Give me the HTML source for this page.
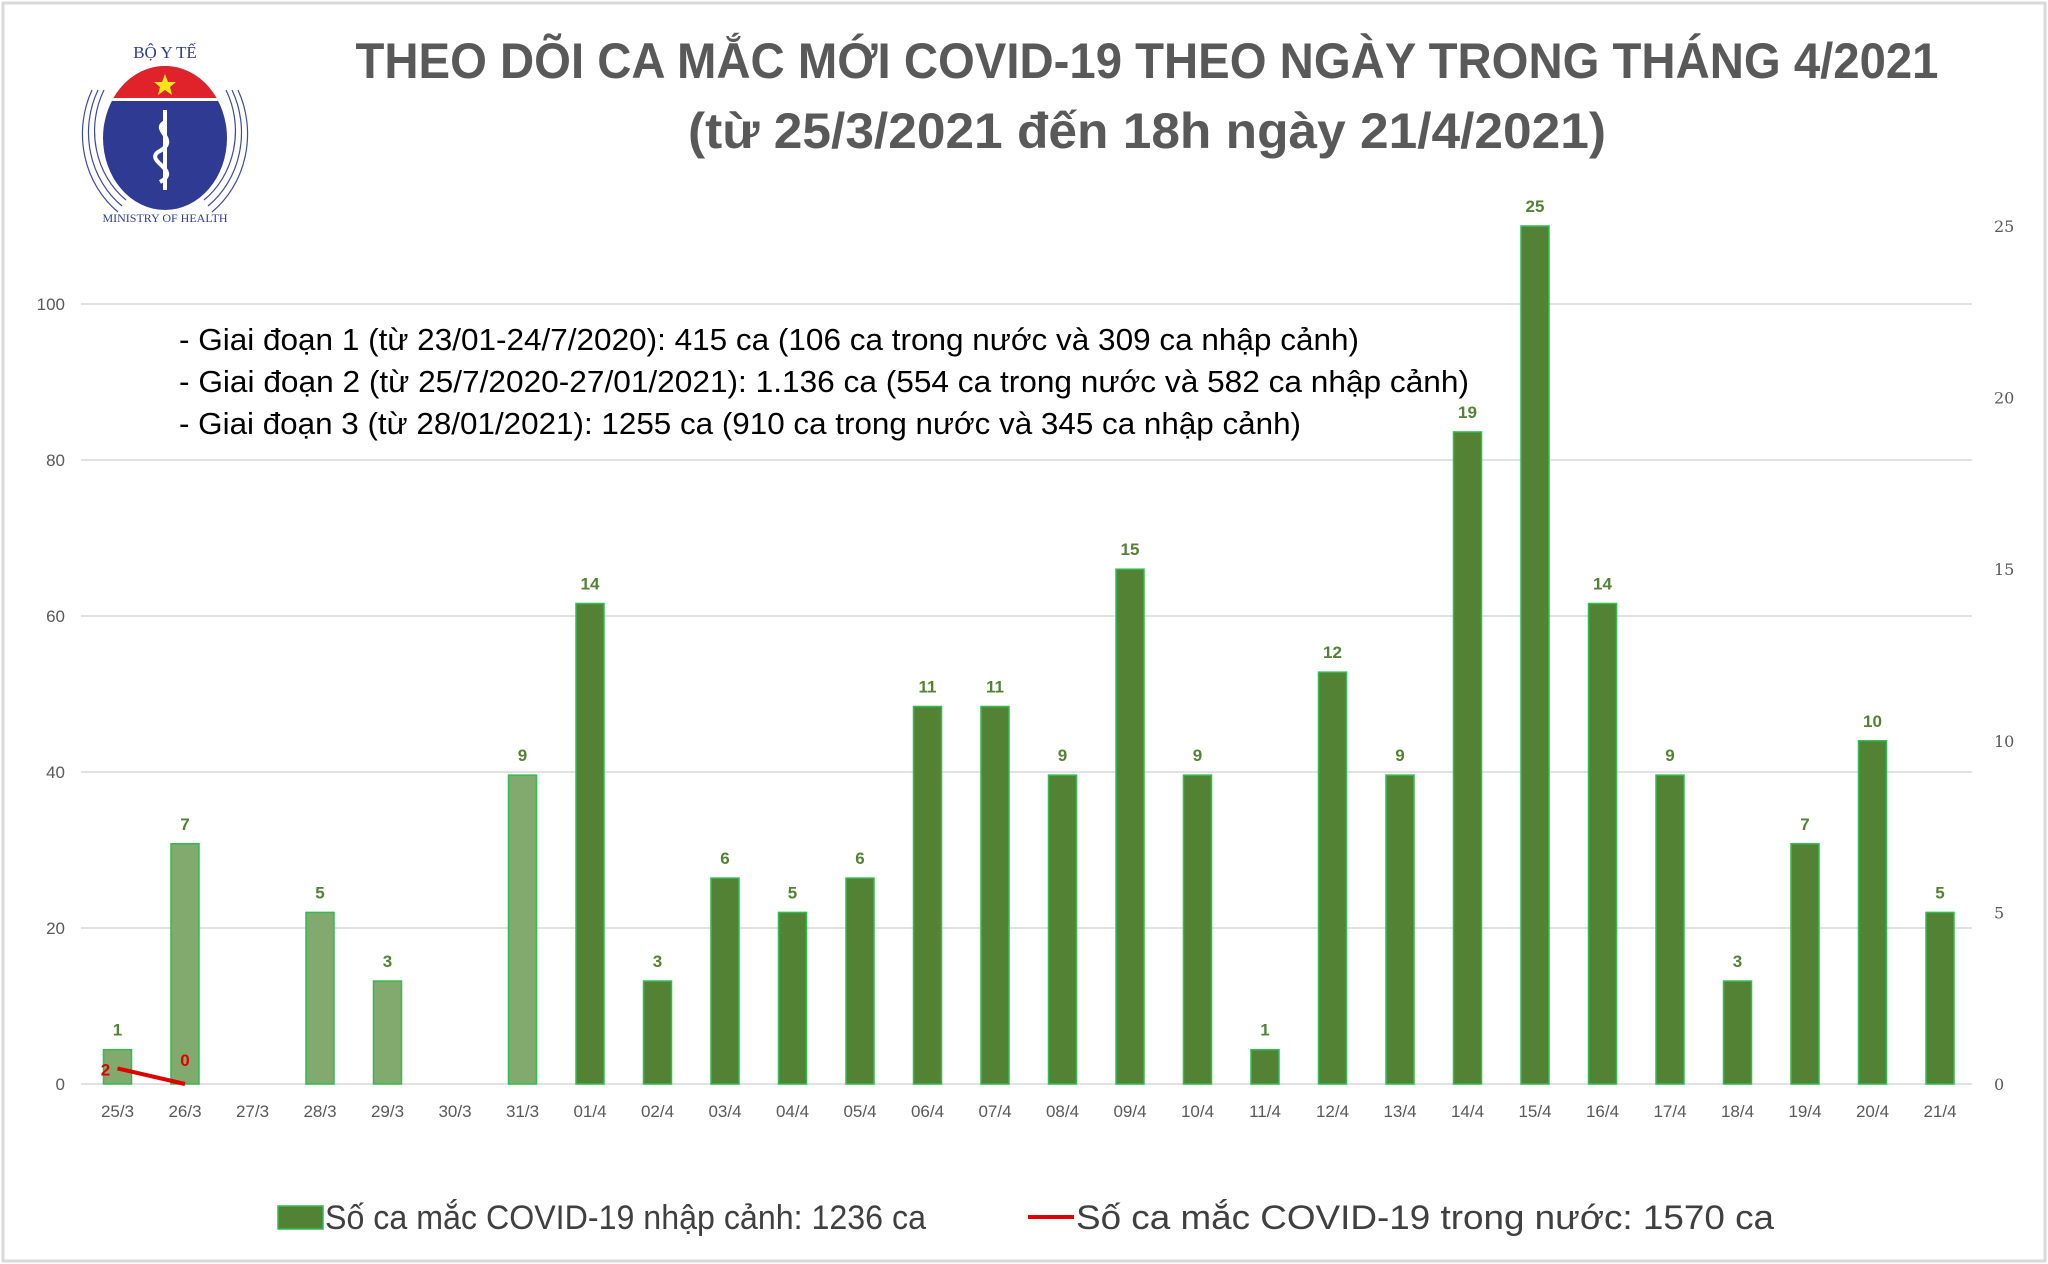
<!DOCTYPE html>
<html><head><meta charset="utf-8"><style>
html,body{margin:0;padding:0;background:#fff;}
svg{display:block;}
</style></head><body>
<svg id="chart" width="2048" height="1264" viewBox="0 0 2048 1264" xmlns="http://www.w3.org/2000/svg" font-family="'Liberation Sans', sans-serif">
<rect x="3" y="3" width="2042" height="1258" fill="#fff" stroke="#d9d9d9" stroke-width="3"/>
<g>
  <path d="M104 90 A78 86 0 0 0 126 200" stroke="#3d4aa0" stroke-width="1.2" fill="none"/>
  <path d="M98 90 A84 92 0 0 0 122 206" stroke="#3d4aa0" stroke-width="1.2" fill="none"/>
  <path d="M92 90 A90 98 0 0 0 118 212" stroke="#3d4aa0" stroke-width="1.2" fill="none"/>
  <path d="M226 90 A78 86 0 0 1 204 200" stroke="#3d4aa0" stroke-width="1.2" fill="none"/>
  <path d="M232 90 A84 92 0 0 1 208 206" stroke="#3d4aa0" stroke-width="1.2" fill="none"/>
  <path d="M238 90 A90 98 0 0 1 212 212" stroke="#3d4aa0" stroke-width="1.2" fill="none"/>
  <clipPath id="lc"><ellipse cx="165" cy="138" rx="62" ry="72"/></clipPath>
  <g clip-path="url(#lc)">
    <rect x="100" y="60" width="140" height="160" fill="#2f3b93"/>
    <rect x="100" y="60" width="140" height="38" fill="#e0222b"/>
    <rect x="100" y="98" width="140" height="3" fill="#fff"/>
  </g>
  <polygon points="165,74 168,82 176,82 170,87 172,95 165,90 158,95 160,87 154,82 162,82" fill="#f7e51b"/>
  <rect x="163" y="110" width="4" height="80" fill="#fff"/>
  <path d="M165 122 C150 130,182 140,158 152 C145 162,182 170,160 182" stroke="#fff" stroke-width="4" fill="none"/>
  <text x="165" y="58" font-size="17" fill="#2f3b93" text-anchor="middle" font-family="'Liberation Serif', serif">BỘ Y TẾ</text>
  <text x="165" y="222" font-size="12" fill="#2f3b93" text-anchor="middle" font-family="'Liberation Serif', serif">MINISTRY OF HEALTH</text>
</g>
<text x="1147" y="78" font-size="50" font-weight="bold" fill="#595959" text-anchor="middle" textLength="1583" lengthAdjust="spacingAndGlyphs">THEO DÕI CA MẮC MỚI COVID-19 THEO NGÀY TRONG THÁNG 4/2021</text>
<text x="1147" y="148" font-size="50" font-weight="bold" fill="#595959" text-anchor="middle" textLength="918" lengthAdjust="spacingAndGlyphs">(từ 25/3/2021 đến 18h ngày 21/4/2021)</text>
<g id="grid"></g>
<g id="bars"></g>
<g id="line"></g>
<g id="axes"></g>
<g font-size="31" fill="#000">
  <text x="179" y="350" textLength="1180" lengthAdjust="spacingAndGlyphs">- Giai đoạn 1 (từ 23/01-24/7/2020): 415 ca (106 ca trong nước và 309 ca nhập cảnh)</text>
  <text x="179" y="392" textLength="1290" lengthAdjust="spacingAndGlyphs">- Giai đoạn 2 (từ 25/7/2020-27/01/2021): 1.136 ca (554 ca trong nước và 582 ca nhập cảnh)</text>
  <text x="179" y="434" textLength="1122" lengthAdjust="spacingAndGlyphs">- Giai đoạn 3 (từ 28/01/2021): 1255 ca (910 ca trong nước và 345 ca nhập cảnh)</text>
</g>
<g>
  <rect x="278" y="1206" width="45" height="23" fill="#548235" stroke="#2ebd4f" stroke-width="1.5"/>
  <text x="325" y="1229" font-size="34" fill="#404040" textLength="601" lengthAdjust="spacingAndGlyphs">Số ca mắc COVID-19 nhập cảnh: 1236 ca</text>
  <line x1="1028" y1="1217" x2="1074" y2="1217" stroke="#e00000" stroke-width="4"/>
  <text x="1076" y="1229" font-size="34" fill="#404040" textLength="698" lengthAdjust="spacingAndGlyphs">Số ca mắc COVID-19 trong nước: 1570 ca</text>
</g>
</svg>
<script>
const categories = ["25/3","26/3","27/3","28/3","29/3","30/3","31/3","01/4","02/4","03/4","04/4","05/4","06/4","07/4","08/4","09/4","10/4","11/4","12/4","13/4","14/4","15/4","16/4","17/4","18/4","19/4","20/4","21/4"];
const importedCases = [1,7,0,5,3,0,9,14,3,6,5,6,11,11,9,15,9,1,12,9,19,25,14,9,3,7,10,5];
const domesticCases = [2,0];
const leftTicks = [0,20,40,60,80,100];
const rightTicks = [0,5,10,15,20,25];

const NS = "http://www.w3.org/2000/svg";
const x0 = 117.5, step = 67.5, zeroY = 1084;
const xPos = i => x0 + i * step;
const yLeft = v => zeroY - v * 7.8;
const yRight = v => zeroY - v * 34.32;
function mk(tag, attrs, parent, txt) {
  const e = document.createElementNS(NS, tag);
  for (const k in attrs) e.setAttribute(k, attrs[k]);
  if (txt !== undefined) e.textContent = txt;
  document.getElementById(parent).appendChild(e);
  return e;
}
leftTicks.forEach(t => {
  const g = mk("line", {x1: 81, x2: 1972, y1: yLeft(t), y2: yLeft(t), stroke: "#d9d9d9", "stroke-width": 1.5}, "grid");
  
  
  const l = mk("text", {x: 65, y: yLeft(t) + 6, "font-size": 17, fill: "#595959", "text-anchor": "end"}, "axes", t);
  
  
});
rightTicks.forEach(t => {
  const l = mk("text", {x: 1994, y: yRight(t) + 6, "font-size": 16, fill: "#595959", "font-family": "'DejaVu Serif', serif"}, "axes", t);
  
  
});
categories.forEach((c, i) => {
  const l = mk("text", {x: xPos(i), y: 1117, "font-size": 17, fill: "#595959", "text-anchor": "middle"}, "axes", c);
  
  
  const v = importedCases[i];
  if (v > 0) {
    const light = i < 7;
    const b = mk("rect", {x: xPos(i) - 14, y: yRight(v), width: 28, height: zeroY - yRight(v), fill: light ? "#82a96e" : "#548235", stroke: "#2ebd4f", "stroke-width": 1.5}, "bars");
    
    
    const t = mk("text", {x: xPos(i), y: yRight(v) - 14, "font-size": 17, "font-weight": "bold", fill: "#548235", "text-anchor": "middle"}, "bars", v);
    
    
  }
});
const pts = domesticCases.map((v, i) => xPos(i) + "," + yLeft(v)).join(" ");
const pl = mk("polyline", {points: pts, fill: "none", stroke: "#e00000", "stroke-width": 4}, "line");


domesticCases.forEach((v, i) => {
  const t = mk("text", {x: i === 0 ? xPos(i) - 12 : xPos(i), y: i === 0 ? yLeft(v) + 7 : yLeft(v) - 18, "font-size": 17, "font-weight": "bold", fill: "#e00000", "text-anchor": "middle"}, "line", v);
  
  
});
</script>
</body></html>
